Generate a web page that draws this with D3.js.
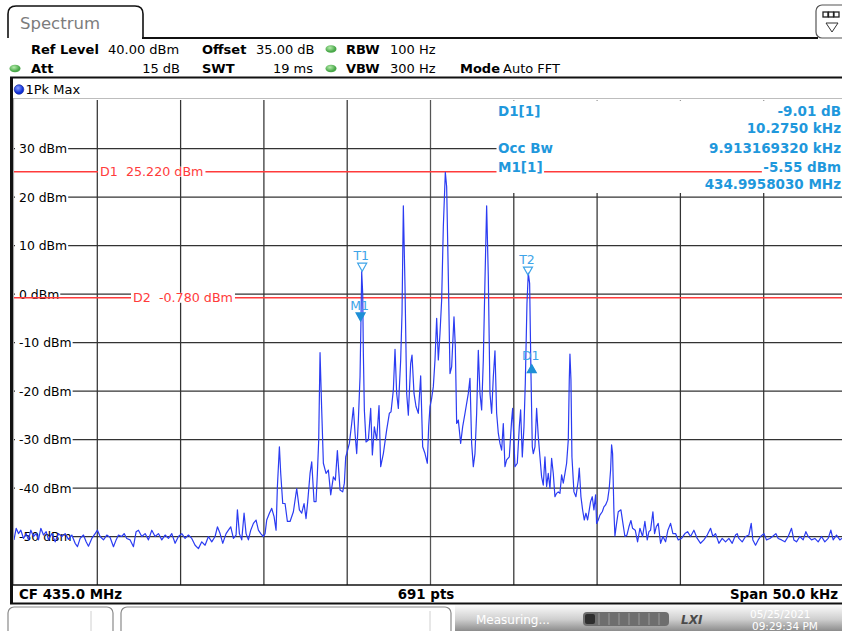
<!DOCTYPE html>
<html>
<head>
<meta charset="utf-8">
<script src="https://cdn.jsdelivr.net/npm/d3@7"></script>
<style>
  html, body { margin: 0; padding: 0; background: #fff; overflow: hidden; }
  svg { display: block; font-family: "DejaVu Sans", Verdana, sans-serif; }
</style>
</head>
<body>
<svg id="chart" width="842" height="631"></svg>
<script>
// ---- instrument settings / data ----
const spanKHz = 50;          // span, centred on CF
const refLevel = 40;         // dBm at top of the grid
const rangeDb = 100;         // 10 dB / div, 10 divs

const settingsRow1 = [['Ref Level', '40.00 dBm'], ['Offset', '35.00 dB'], ['RBW', '100 Hz']];
const settingsRow2 = [['Att', '15 dB'], ['SWT', '19 ms'], ['VBW', '300 Hz'], ['Mode', 'Auto FFT']];
const footerTexts = ['CF 435.0 MHz', '691 pts', 'Span 50.0 kHz'];

const levelTicks = [30, 20, 10, 0, -10, -20, -30, -40, -50];
const freqGridKHz = [-20, -15, -10, -5, 0, 5, 10, 15, 20];

const displayLines = [
  { name: 'D1', level: 25.22, label: 'D1  25.220 dBm' },
  { name: 'D2', level: -0.78, label: 'D2  -0.780 dBm' }
];

const markers = [
  { id: 'T1', f: -4.10, level: 4.7, kind: 'T' },
  { id: 'T2', f: 5.85, level: 3.9, kind: 'T' },
  { id: 'M1', f: -4.197, level: -5.55, kind: 'M' },
  { id: 'D1', f: 6.078, level: -14.56, kind: 'D' }
];

const infoLeft = ['D1[1]', '', 'Occ Bw', 'M1[1]', ''];
const infoRight = ['-9.01 dB', '10.2750 kHz', '9.913169320 kHz', '-5.55 dBm', '434.9958030 MHz'];

// trace: [offset from CF in kHz, level in dBm]
const trace = [
  [-25.00,-50.7],[-24.87,-48.3],[-24.73,-49.4],[-24.59,-48.7],[-24.43,-50.4],[-24.27,-49.4],[-24.13,-50.7],[-23.99,-48.7],
  [-23.83,-50.0],[-23.67,-49.4],[-23.53,-50.7],[-23.39,-48.3],[-23.23,-49.7],[-23.07,-49.0],[-22.93,-50.7],[-22.73,-49.4],
  [-22.53,-51.1],[-22.33,-49.4],[-22.13,-50.0],[-21.93,-49.4],[-21.73,-50.6],[-21.53,-49.7],[-21.33,-51.4],[-21.19,-52.1],
  [-21.03,-50.4],[-20.83,-49.7],[-20.67,-51.1],[-20.53,-52.0],[-20.33,-50.4],[-20.13,-49.4],[-19.99,-48.7],[-19.83,-50.0],
  [-19.63,-50.7],[-19.43,-49.7],[-19.23,-50.2],[-19.03,-52.1],[-18.87,-50.7],[-18.73,-49.7],[-18.53,-50.0],[-18.39,-49.4],
  [-18.23,-50.4],[-18.03,-50.7],[-17.83,-52.1],[-17.67,-49.0],[-17.53,-48.7],[-17.33,-50.0],[-17.13,-49.4],[-16.93,-50.7],
  [-16.73,-48.7],[-16.53,-50.0],[-16.33,-49.4],[-16.13,-50.7],[-15.93,-49.7],[-15.73,-50.4],[-15.53,-49.4],[-15.33,-51.4],
  [-15.13,-50.0],[-14.93,-49.4],[-14.73,-50.4],[-14.53,-49.7],[-14.33,-50.4],[-14.13,-51.8],[-13.93,-52.5],[-13.73,-51.1],
  [-13.53,-51.8],[-13.33,-50.0],[-13.13,-51.1],[-12.93,-50.0],[-12.79,-48.0],[-12.63,-49.4],[-12.47,-51.4],[-12.27,-49.4],
  [-12.13,-48.7],[-11.99,-48.0],[-11.83,-50.4],[-11.67,-49.7],[-11.59,-44.5],[-11.47,-49.4],[-11.33,-50.7],[-11.19,-45.2],
  [-11.07,-49.4],[-10.93,-50.7],[-10.79,-48.7],[-10.63,-47.3],[-10.47,-46.6],[-10.33,-48.7],[-10.19,-49.4],[-10.03,-50.0],
  [-9.93,-49.4],[-9.83,-46.6],[-9.67,-45.2],[-9.53,-44.2],[-9.39,-45.9],[-9.27,-48.7],[-9.19,-39.7],[-9.07,-31.5],
  [-8.99,-37.0],[-8.87,-43.2],[-8.73,-43.2],[-8.59,-46.9],[-8.43,-46.9],[-8.23,-44.9],[-8.03,-40.1],[-7.87,-44.5],
  [-7.73,-45.2],[-7.59,-43.2],[-7.47,-46.3],[-7.37,-42.8],[-7.23,-37.0],[-7.13,-34.6],[-6.99,-42.8],[-6.87,-42.8],
  [-6.79,-37.0],[-6.71,-30.1],[-6.63,-12.1],[-6.53,-23.9],[-6.43,-34.9],[-6.27,-37.0],[-6.13,-36.3],[-5.99,-41.4],
  [-5.83,-37.7],[-5.71,-38.4],[-5.59,-32.3],[-5.43,-40.4],[-5.27,-40.8],[-5.17,-39.0],[-5.09,-33.6],[-5.03,-32.9],
  [-4.87,-30.8],[-4.73,-26.7],[-4.63,-23.4],[-4.53,-28.7],[-4.43,-32.9],[-4.33,-26.0],[-4.23,-17.1],[-4.17,-4.7],
  [-4.13,4.6],[-4.07,0.1],[-4.03,-12.2],[-3.97,-23.9],[-3.87,-30.5],[-3.73,-30.1],[-3.59,-23.6],[-3.49,-33.2],
  [-3.37,-27.4],[-3.23,-30.1],[-3.09,-23.0],[-2.99,-35.6],[-2.83,-32.9],[-2.63,-28.0],[-2.47,-24.6],[-2.37,-24.3],
  [-2.23,-19.8],[-2.13,-11.4],[-2.03,-20.5],[-1.93,-23.6],[-1.79,-13.6],[-1.71,-4.0],[-1.63,18.2],[-1.53,1.5],
  [-1.43,-20.5],[-1.33,-25.0],[-1.19,-14.3],[-1.11,-12.6],[-0.99,-20.5],[-0.87,-23.2],[-0.73,-24.6],[-0.59,-16.9],
  [-0.47,-31.5],[-0.33,-32.9],[-0.19,-34.9],[-0.11,-27.4],[-0.03,-23.2],[0.07,-21.5],[0.17,-19.1],[0.27,-13.6],
  [0.37,-5.0],[0.47,-13.6],[0.57,-8.1],[0.67,-1.2],[0.77,13.9],[0.89,25.1],[0.97,22.1],[1.07,3.6],
  [1.17,-16.4],[1.27,-15.0],[1.41,-4.7],[1.49,-10.9],[1.57,-26.7],[1.67,-26.0],[1.81,-30.8],[1.93,-27.4],
  [2.07,-24.6],[2.27,-20.5],[2.37,-17.4],[2.47,-30.8],[2.57,-35.6],[2.67,-32.9],[2.77,-24.6],[2.87,-11.6],
  [2.97,-20.5],[3.07,-23.9],[3.17,-13.6],[3.27,2.9],[3.37,18.2],[3.47,3.6],[3.57,-20.5],[3.67,-24.6],
  [3.77,-17.1],[3.87,-11.7],[3.97,-24.6],[4.07,-28.7],[4.17,-30.8],[4.27,-32.2],[4.37,-26.7],[4.47,-35.6],
  [4.57,-34.2],[4.73,-33.6],[4.87,-26.0],[4.93,-23.6],[5.07,-35.6],[5.21,-34.9],[5.33,-27.4],[5.41,-23.9],
  [5.51,-33.6],[5.61,-27.4],[5.69,-18.4],[5.79,-2.0],[5.87,4.3],[5.95,2.2],[6.03,-16.4],[6.11,-31.5],
  [6.17,-32.9],[6.27,-31.5],[6.37,-23.6],[6.47,-29.4],[6.57,-33.6],[6.67,-37.7],[6.77,-39.4],[6.87,-33.6],
  [6.97,-39.7],[7.07,-37.0],[7.17,-40.1],[7.27,-33.9],[7.37,-37.0],[7.47,-41.8],[7.57,-41.1],[7.67,-40.8],
  [7.77,-41.1],[7.87,-37.3],[7.97,-39.0],[8.07,-37.0],[8.17,-34.9],[8.27,-30.1],[8.33,-17.7],[8.37,-12.4],
  [8.43,-17.7],[8.49,-33.6],[8.61,-40.8],[8.73,-41.8],[8.87,-38.4],[8.93,-35.9],[9.03,-41.8],[9.13,-44.5],
  [9.23,-46.6],[9.33,-45.2],[9.43,-46.6],[9.53,-44.5],[9.61,-42.8],[9.71,-41.8],[9.81,-44.5],[9.91,-41.4],
  [9.97,-47.3],[10.07,-46.6],[10.17,-45.6],[10.31,-44.9],[10.41,-43.9],[10.51,-43.5],[10.63,-42.5],[10.73,-40.0],
  [10.81,-36.3],[10.87,-31.1],[10.93,-32.9],[11.01,-44.9],[11.07,-49.9],[11.17,-47.3],[11.27,-44.9],[11.43,-44.5],
  [11.55,-47.3],[11.67,-50.0],[11.79,-49.7],[11.91,-48.0],[12.03,-46.7],[12.13,-48.3],[12.29,-48.7],[12.43,-51.1],
  [12.57,-48.3],[12.73,-50.0],[12.87,-46.9],[13.01,-50.7],[13.11,-49.0],[13.21,-48.7],[13.35,-44.9],[13.45,-49.4],
  [13.55,-48.0],[13.67,-47.3],[13.81,-51.4],[13.95,-50.0],[14.11,-51.1],[14.25,-48.7],[14.41,-47.3],[14.55,-49.4],
  [14.71,-49.4],[14.87,-50.7],[15.07,-50.4],[15.27,-49.4],[15.43,-49.0],[15.61,-50.0],[15.81,-48.7],[16.01,-50.4],
  [16.21,-51.4],[16.41,-50.7],[16.61,-49.7],[16.81,-48.3],[16.95,-50.0],[17.11,-49.4],[17.31,-51.4],[17.51,-50.4],
  [17.71,-51.1],[17.91,-50.4],[18.11,-51.4],[18.31,-49.7],[18.41,-49.4],[18.51,-50.4],[18.71,-51.1],[18.91,-50.0],
  [19.11,-49.7],[19.25,-47.3],[19.35,-50.7],[19.51,-51.8],[19.67,-50.7],[19.81,-50.0],[20.01,-49.4],[20.17,-50.7],
  [20.37,-50.4],[20.53,-50.0],[20.73,-49.4],[20.87,-50.4],[21.07,-50.7],[21.27,-51.1],[21.47,-50.0],[21.67,-48.3],
  [21.81,-50.7],[21.97,-51.1],[22.17,-50.0],[22.37,-50.7],[22.53,-49.0],[22.67,-50.0],[22.87,-50.7],[23.07,-50.4],
  [23.27,-51.1],[23.47,-50.0],[23.67,-51.1],[23.87,-50.4],[24.03,-48.7],[24.17,-50.7],[24.37,-49.7],[24.57,-50.7],
  [24.69,-50.4],[24.85,-50.0],[25.00,-50.7]
];

// ---- layout ----
const svg = d3.select('#chart');
const plot = { left: 14, right: 847, top: 100, bottom: 585 };

const x = d3.scaleLinear().domain([-spanKHz / 2, spanKHz / 2]).range([plot.left, plot.right]);
const y = d3.scaleLinear().domain([refLevel - rangeDb, refLevel]).range([plot.bottom, plot.top]);

const BLUE_TXT = '#1f98dc';
const MK_TXT = '#3ea4e8';
const RED = '#ff3b3b';

// white box behind a text node
function backWhite(t, padX, padY) {
  const b = t.node().getBBox();
  d3.select(t.node().parentNode).insert('rect', () => t.node())
    .attr('x', b.x - padX).attr('y', b.y + padY)
    .attr('width', b.width + 2 * padX).attr('height', b.height - 2 * padY)
    .attr('fill', '#fff');
  return t;
}

const defs = svg.append('defs');
const gGreen = defs.append('radialGradient').attr('id', 'gdot').attr('cx', '40%').attr('cy', '35%');
gGreen.append('stop').attr('offset', '0%').attr('stop-color', '#b4ecaa');
gGreen.append('stop').attr('offset', '100%').attr('stop-color', '#4aa84a');
const gBlue = defs.append('radialGradient').attr('id', 'bdot').attr('cx', '40%').attr('cy', '35%');
gBlue.append('stop').attr('offset', '0%').attr('stop-color', '#8aa0ff');
gBlue.append('stop').attr('offset', '100%').attr('stop-color', '#1030d8');
const gStatus = defs.append('linearGradient').attr('id', 'status').attr('x1', 0).attr('y1', 0).attr('x2', 0).attr('y2', 1);
gStatus.append('stop').attr('offset', '0%').attr('stop-color', '#fbfbfb');
gStatus.append('stop').attr('offset', '55%').attr('stop-color', '#cfcfcf');
gStatus.append('stop').attr('offset', '100%').attr('stop-color', '#8c8c8c');
defs.append('clipPath').attr('id', 'plotclip').append('rect')
  .attr('x', plot.left).attr('y', plot.top).attr('width', plot.right - plot.left).attr('height', plot.bottom - plot.top);

// ---- tab + header ----
svg.append('path')
  .attr('d', 'M8,38 V14 Q8,6 16,6 H135 Q143,6 143,14 V38')
  .attr('fill', '#fff').attr('stroke', '#111').attr('stroke-width', 1.6);
svg.append('line').attr('x1', 142).attr('x2', 818).attr('y1', 38).attr('y2', 38)
  .attr('stroke', '#111').attr('stroke-width', 1.8);
svg.append('text').attr('x', 20).attr('y', 29).attr('font-size', 16.5).attr('fill', '#7c7c7c').text('Spectrum');

// right icon button
svg.append('rect').attr('x', 816).attr('y', 5).attr('width', 40).attr('height', 33).attr('rx', 6)
  .attr('fill', '#fff').attr('stroke', '#555').attr('stroke-width', 1.2);
[0, 1, 2].forEach(i => {
  svg.append('rect').attr('x', 823 + i * 5.5).attr('y', 12).attr('width', 5).attr('height', 5)
    .attr('fill', '#fff').attr('stroke', '#222').attr('stroke-width', 1.3);
});
svg.append('path').attr('d', 'M826,23 L838,23 L832,32 Z').attr('fill', 'none').attr('stroke', '#333').attr('stroke-width', 1);

const hdr = svg.append('g').attr('font-size', 13).attr('fill', '#000');
const dot = (cx, cy) => hdr.append('ellipse').attr('cx', cx).attr('cy', cy).attr('rx', 5.5).attr('ry', 3.8).attr('fill', 'url(#gdot)');
// row 1
hdr.append('text').attr('x', 31).attr('y', 53.5).attr('font-weight', 'bold').text(settingsRow1[0][0]);
hdr.append('text').attr('x', 108).attr('y', 53.5).text(settingsRow1[0][1]);
hdr.append('text').attr('x', 202).attr('y', 53.5).attr('font-weight', 'bold').text(settingsRow1[1][0]);
hdr.append('text').attr('x', 256).attr('y', 53.5).text(settingsRow1[1][1]);
dot(331, 49);
hdr.append('text').attr('x', 346).attr('y', 53.5).attr('font-weight', 'bold').text(settingsRow1[2][0]);
hdr.append('text').attr('x', 390).attr('y', 53.5).text(settingsRow1[2][1]);
// row 2
dot(15, 68.5);
hdr.append('text').attr('x', 31).attr('y', 72.5).attr('font-weight', 'bold').text(settingsRow2[0][0]);
hdr.append('text').attr('x', 180).attr('y', 72.5).attr('text-anchor', 'end').text(settingsRow2[0][1]);
hdr.append('text').attr('x', 202).attr('y', 72.5).attr('font-weight', 'bold').text(settingsRow2[1][0]);
hdr.append('text').attr('x', 313).attr('y', 72.5).attr('text-anchor', 'end').text(settingsRow2[1][1]);
dot(331, 68.5);
hdr.append('text').attr('x', 346).attr('y', 72.5).attr('font-weight', 'bold').text(settingsRow2[2][0]);
hdr.append('text').attr('x', 390).attr('y', 72.5).text(settingsRow2[2][1]);
hdr.append('text').attr('x', 460).attr('y', 72.5).attr('font-weight', 'bold').text(settingsRow2[3][0]);
hdr.append('text').attr('x', 503).attr('y', 72.5).text(settingsRow2[3][1]);

// ---- window frame ----
svg.append('line').attr('x1', 10).attr('x2', 842).attr('y1', 77.5).attr('y2', 77.5).attr('stroke', '#111').attr('stroke-width', 2);
svg.append('line').attr('x1', 11.5).attr('x2', 11.5).attr('y1', 77).attr('y2', 604).attr('stroke', '#111').attr('stroke-width', 3);
svg.append('line').attr('x1', 13).attr('x2', 842).attr('y1', 98.5).attr('y2', 98.5).attr('stroke', '#bdbdbd').attr('stroke-width', 1.2);
svg.append('line').attr('x1', 13.6).attr('x2', 13.6).attr('y1', 98).attr('y2', 585).attr('stroke', '#a0a0a0').attr('stroke-width', 1);

svg.append('circle').attr('cx', 19).attr('cy', 89.5).attr('r', 4.8).attr('fill', 'url(#bdot)').attr('stroke', '#0a1c90').attr('stroke-width', 0.6);
svg.append('text').attr('x', 25.5).attr('y', 94).attr('font-size', 13).text('1Pk Max');

// ---- grid ----
const grid = svg.append('g').attr('stroke', '#333').attr('stroke-width', 1.25);
grid.selectAll('line.v').data(freqGridKHz).join('line').attr('class', 'v')
  .attr('x1', d => x(d)).attr('x2', d => x(d))
  .attr('y1', plot.top).attr('y2', plot.bottom)
  .attr('stroke', d => d === 0 ? '#555' : '#333');
grid.selectAll('line.h').data(levelTicks).join('line').attr('class', 'h')
  .attr('x1', plot.left).attr('x2', plot.right)
  .attr('y1', d => y(d)).attr('y2', d => y(d));

// marker info panel covers the upper right of the grid
svg.append('rect').attr('x', 497).attr('y', plot.top + 0.5).attr('width', 350).attr('height', 92.5).attr('fill', '#fff');

// level labels
const yl = svg.append('g').attr('font-size', 12.4).attr('fill', '#000');
levelTicks.forEach(v => {
  const t = yl.append('text').attr('x', 19).attr('y', y(v) + 4.5).text(v + ' dBm');
  const b = t.node().getBBox();
  yl.insert('rect', () => t.node()).attr('x', plot.left + 1).attr('y', y(v) - 3)
    .attr('width', b.x + b.width + 1 - plot.left - 1).attr('height', 6).attr('fill', '#fff');
});

// ---- display lines ----
const dl = svg.append('g');
const dlLabelX = { D1: 100, D2: 133 };
displayLines.forEach(d => {
  dl.append('line').attr('x1', plot.left).attr('x2', plot.right).attr('y1', y(d.level)).attr('y2', y(d.level))
    .attr('stroke', RED).attr('stroke-width', 1.4);
});
displayLines.forEach(d => {
  const t = dl.append('text').attr('x', dlLabelX[d.name]).attr('y', y(d.level) + 4.6)
    .attr('font-size', 12.7).attr('fill', RED).attr('xml:space', 'preserve').style('white-space', 'pre').text(d.label);
  const b = t.node().getBBox();
  dl.insert('rect', () => t.node()).attr('x', b.x - 2).attr('y', y(d.level) - 5)
    .attr('width', b.width + 4).attr('height', 10).attr('fill', '#fff');
});

// ---- trace ----
const line = d3.line().x(d => x(d[0])).y(d => y(d[1]));
svg.append('path').datum(trace)
  .attr('clip-path', 'url(#plotclip)')
  .attr('fill', 'none').attr('stroke', '#2b3cf2').attr('stroke-width', 1.2)
  .attr('stroke-linejoin', 'round')
  .attr('d', line);

// ---- markers ----
const mk = svg.append('g');
markers.forEach(m => {
  const mx = x(m.f), my = y(m.level);
  let tri, ly;
  if (m.kind === 'D') {
    tri = `M${mx - 4.5},${my + 8} L${mx + 4.5},${my + 8} L${mx},${my} Z`;
    ly = my - 5;
  } else {
    tri = `M${mx - 4.5},${my - 8} L${mx + 4.5},${my - 8} L${mx},${my} Z`;
    ly = my - 11;
  }
  mk.append('path').attr('d', tri)
    .attr('fill', m.kind === 'T' ? 'none' : '#1e8fd6')
    .attr('stroke', m.kind === 'T' ? MK_TXT : '#1e8fd6').attr('stroke-width', 1.2);
  mk.append('text').attr('x', mx - 1).attr('y', ly).attr('text-anchor', 'middle')
    .attr('font-size', 12.5).attr('fill', MK_TXT).text(m.id);
});

// ---- marker info panel text ----
const info = svg.append('g').attr('font-size', 13.5).attr('font-weight', 'bold').attr('fill', BLUE_TXT);
const rowY = [116, 133, 153, 172, 189];
infoLeft.forEach((s, i) => {
  if (!s) return;
  backWhite(info.append('text').attr('x', 498).attr('y', rowY[i]).text(s), 1.5, 2);
});
infoRight.forEach((s, i) => {
  backWhite(info.append('text').attr('x', 841).attr('y', rowY[i]).attr('text-anchor', 'end').text(s), 1.5, 2);
});

// ---- footer ----
svg.append('line').attr('x1', 12).attr('x2', 842).attr('y1', plot.bottom).attr('y2', plot.bottom).attr('stroke', '#111').attr('stroke-width', 1.6);
const ft = svg.append('g').attr('font-size', 13.4).attr('font-weight', 'bold').attr('fill', '#000');
ft.append('text').attr('x', 19).attr('y', 598.5).text(footerTexts[0]);
ft.append('text').attr('x', 426).attr('y', 598.5).attr('text-anchor', 'middle').text(footerTexts[1]);
ft.append('text').attr('x', 838).attr('y', 598.5).attr('text-anchor', 'end').text(footerTexts[2]);
svg.append('line').attr('x1', 10).attr('x2', 842).attr('y1', 603.5).attr('y2', 603.5).attr('stroke', '#111').attr('stroke-width', 2.2);

// ---- status bar ----
const sb = svg.append('g');
sb.append('rect').attr('x', 455).attr('y', 605).attr('width', 387).attr('height', 26).attr('fill', 'url(#status)');
sb.append('rect').attr('x', 8).attr('y', 607).attr('width', 105).attr('height', 30).attr('rx', 6)
  .attr('fill', '#fff').attr('stroke', '#8a8a8a').attr('stroke-width', 1.2);
sb.append('line').attr('x1', 91).attr('x2', 91).attr('y1', 611).attr('y2', 631).attr('stroke', '#d0d0d0');
sb.append('rect').attr('x', 121).attr('y', 607).attr('width', 330).attr('height', 30).attr('rx', 6)
  .attr('fill', '#fff').attr('stroke', '#8a8a8a').attr('stroke-width', 1.2);
sb.append('line').attr('x1', 430).attr('x2', 430).attr('y1', 611).attr('y2', 631).attr('stroke', '#d0d0d0');
sb.append('text').attr('x', 476).attr('y', 624).attr('font-size', 12).attr('fill', '#fff').text('Measuring...');
sb.append('rect').attr('x', 583).attr('y', 612).attr('width', 86).attr('height', 14).attr('rx', 4).attr('fill', '#6e6e6e');
sb.append('rect').attr('x', 585).attr('y', 614).attr('width', 10).attr('height', 10).attr('rx', 2).attr('fill', '#2e2e2e');
d3.range(7).forEach(i => {
  sb.append('line').attr('x1', 599 + i * 10).attr('x2', 599 + i * 10).attr('y1', 613).attr('y2', 625)
    .attr('stroke', '#9a9a9a').attr('stroke-width', 1);
});
sb.append('text').attr('x', 681).attr('y', 624).attr('font-size', 12).attr('font-weight', 'bold')
  .attr('font-style', 'italic').attr('fill', '#4a4a4a').text('LXI');
sb.append('text').attr('x', 750).attr('y', 618).attr('font-size', 10.5).attr('fill', '#fff').text('05/25/2021');
sb.append('text').attr('x', 752).attr('y', 630).attr('font-size', 10.5).attr('fill', '#fff').text('09:29:34 PM');
</script>
</body>
</html>
